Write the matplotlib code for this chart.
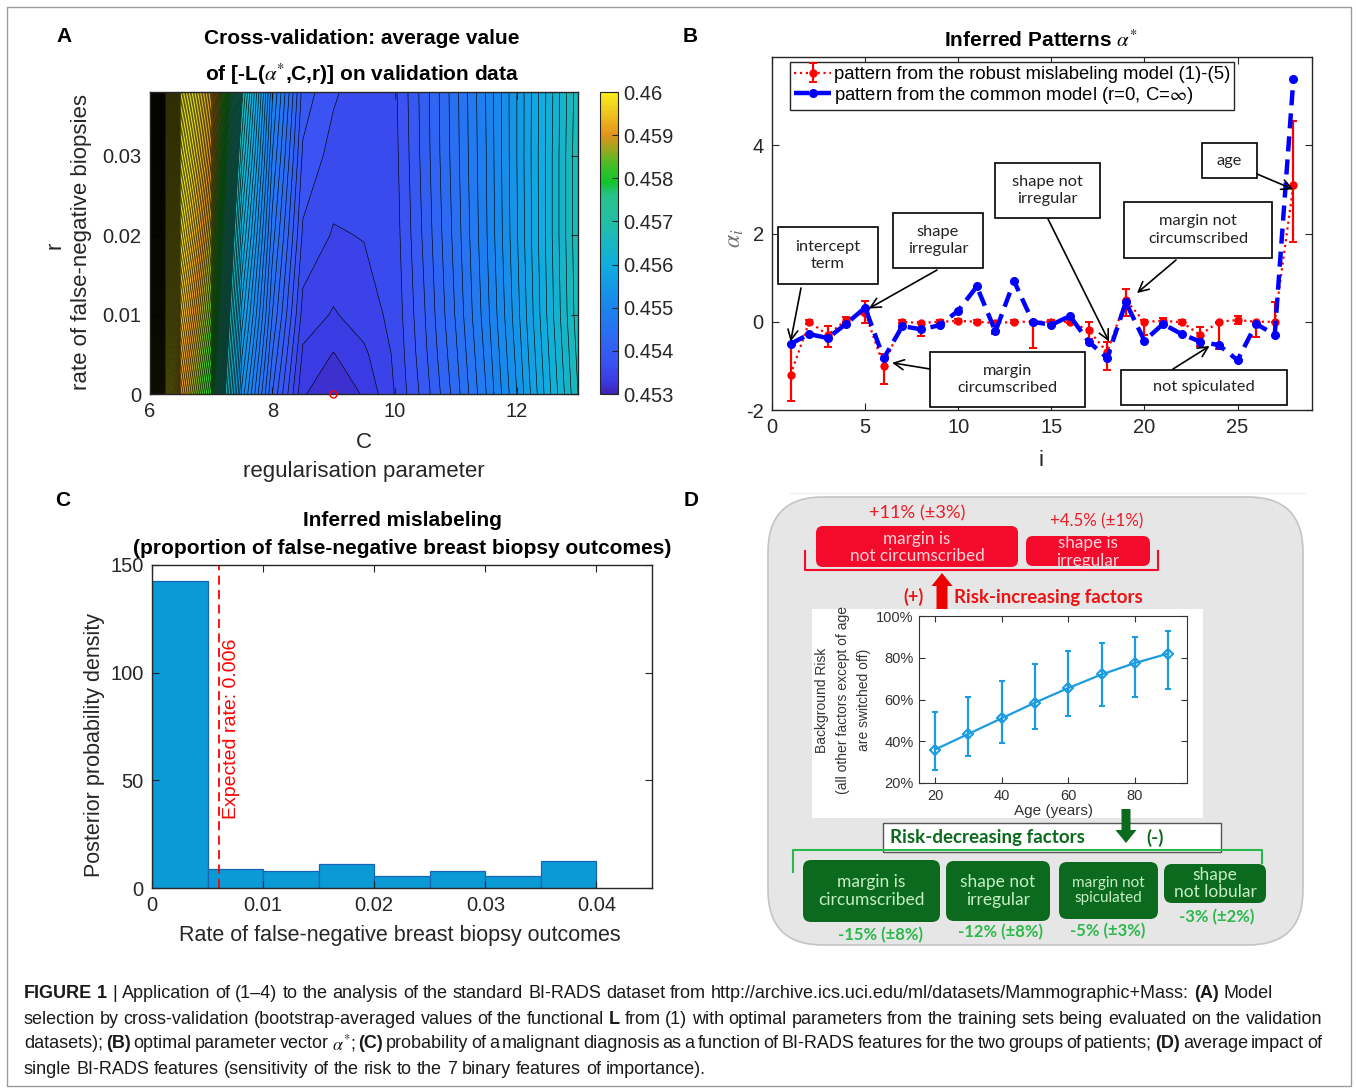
import numpy as np
import matplotlib
matplotlib.use("Agg")
import matplotlib.pyplot as plt
from matplotlib.colors import LinearSegmentedColormap, Normalize
from matplotlib.cm import ScalarMappable
from matplotlib.patches import FancyBboxPatch, Rectangle, FancyArrow

# ------------------------------------------------------------------ data
# Panel A : cross-validation surface  (rows = r, columns = C)
C_grid = [6.0, 6.25, 6.5, 7.0, 7.5, 8.0, 8.5, 9.0, 9.5, 10.0, 10.5, 11.0, 11.5, 12.0, 12.5, 13.0]
r_grid = [0.0, 0.005, 0.01, 0.02, 0.03, 0.04]
cv_r0000 = [0.4640, 0.4606, 0.4591, 0.4580, 0.4553, 0.45408, 0.453254, 0.453142, 0.453254, 0.453523, 0.45387, 0.45429, 0.45478, 0.45534, 0.45597, 0.45660]
cv_r0005 = [0.4645, 0.4609, 0.4593, 0.4582, 0.4555, 0.45422, 0.453352, 0.453233, 0.453352, 0.453541, 0.453912, 0.454332, 0.454822, 0.455382, 0.456012, 0.456642]
cv_r0010 = [0.4650, 0.4612, 0.4595, 0.4584, 0.4557, 0.45436, 0.453464, 0.453366, 0.453450, 0.453562, 0.453940, 0.454374, 0.454864, 0.455424, 0.456054, 0.456684]
cv_r0020 = [0.4658, 0.4617, 0.4599, 0.4587, 0.4561, 0.45457, 0.453632, 0.453506, 0.453527, 0.453590, 0.453982, 0.454416, 0.454906, 0.455466, 0.456082, 0.456712]
cv_r0030 = [0.4666, 0.4622, 0.4603, 0.4590, 0.4565, 0.45478, 0.453772, 0.453604, 0.453562, 0.453611, 0.454010, 0.454444, 0.454920, 0.455480, 0.456082, 0.456712]
cv_r0040 = [0.4675, 0.4627, 0.4607, 0.4593, 0.4569, 0.45499, 0.453912, 0.453702, 0.453590, 0.453632, 0.454024, 0.454458, 0.454934, 0.455480, 0.456068, 0.456684]
cv_best = (9.0, 0.0)
cb_ticks = [0.453, 0.454, 0.455, 0.456, 0.457, 0.458, 0.459, 0.460]
cb_labels = ['0.453', '0.454', '0.455', '0.456', '0.457', '0.458', '0.459', '0.46']

# Panel B : inferred patterns alpha*
feat_idx = list(range(1, 29))
robust = [-1.2, 0.0, -0.3, 0.05, 0.2, -1.0, 0.0, -0.03, 0.0, 0.02, 0.0, -0.03, 0.0, 0.0,
          0.0, 0.0, -0.19, -0.69, 0.49, 0.0, 0.02, -0.01, -0.3, 0.0, 0.04, 0.0, 0.0, 3.1]
robust_lo = [0.59, 0.05, 0.28, 0.05, 0.22, 0.41, 0.03, 0.29, 0.03, 0.05, 0.03, 0.25, 0.03, 0.6,
             0.03, 0.03, 0.2, 0.41, 0.35, 0.3, 0.07, 0.05, 0.24, 0.62, 0.09, 0.35, 0.0, 1.3]
robust_hi = [0.7, 0.05, 0.21, 0.05, 0.27, 0.27, 0.03, 0.03, 0.03, 0.05, 0.03, 0.03, 0.03, 0.02,
             0.03, 0.03, 0.19, 0.22, 0.26, 0.03, 0.07, 0.05, 0.19, 0.0, 0.09, 0.0, 0.45, 1.45]
common = [-0.5, -0.28, -0.37, -0.04, 0.32, -0.83, -0.1, -0.17, -0.08, 0.25, 0.8, -0.22, 0.92, 0.0,
          -0.07, 0.13, -0.45, -0.82, 0.44, -0.43, -0.05, -0.28, -0.45, -0.53, -0.87, -0.05, -0.29, 5.5]
legend_labels = ['pattern from the robust mislabeling model (1)-(5)',
                 r'pattern from the common model (r=0, C=$\infty$)']

# Panel C : posterior histogram
hist_edges = [0.0, 0.005, 0.01, 0.015, 0.02, 0.025, 0.03, 0.035, 0.04]
hist_density = [142.5, 9.0, 8.0, 11.0, 5.6, 8.0, 5.6, 12.5]
expected_rate = 0.006

# Panel D : background risk vs age and feature impacts
ages = [20, 30, 40, 50, 60, 70, 80, 90]
risk = [36, 43.5, 51, 58.5, 65.5, 72, 77.5, 82]
risk_low = [26, 33, 39, 46, 52, 57, 61, 65]
risk_high = [54, 61, 69, 77, 83, 87, 90, 93]
up_names = ['margin is\nnot circumscribed', 'shape is\nirregular']
up_labels = ['+11% (±3%)', '+4.5% (±1%)']
down_names = ['margin is\ncircumscribed', 'shape not\nirregular', 'margin not\nspiculated', 'shape\nnot lobular']
down_labels = ['-15% (±8%)', '-12% (±8%)', '-5% (±3%)', '-3% (±2%)']

# ------------------------------------------------------------------ style
plt.rcParams['font.family'] = ['Liberation Sans', 'DejaVu Sans']
plt.rcParams['mathtext.fontset'] = 'stix'
plt.rcParams['axes.unicode_minus'] = False
TXT = '#262626'
CAL = ['Lato', 'DejaVu Sans']

W, H = 1356, 1089
fig = plt.figure(figsize=(W / 100, H / 100), dpi=100)
fig.patch.set_facecolor('white')


def ax_px(x0, y0, x1, y1):
    return fig.add_axes([x0 / W, 1 - y1 / H, (x1 - x0) / W, (y1 - y0) / H])


bg = fig.add_axes([0, 0, 1, 1])
bg.set_xlim(0, W)
bg.set_ylim(H, 0)
bg.axis('off')
bg.add_patch(Rectangle((7, 7), 1344, 1079, fill=False, ec='#9a9a9a', lw=1.0))


def style_axes(ax, fs=14.5, pad=6):
    ax.tick_params(direction='in', top=True, right=True, labelsize=fs, colors=TXT,
                   length=5, width=0.8, pad=pad)
    for s in ax.spines.values():
        s.set_color(TXT)
        s.set_linewidth(1.0)


# panel letters
for lab, (x, y) in zip('ABCD', [(64, 36), (690, 36), (63, 500), (691, 500)]):
    bg.text(x, y, lab, fontsize=15, fontweight='bold', ha='center', va='center', color='black')

# ------------------------------------------------------------------ Panel A
axA = ax_px(150, 92, 578, 394)
Z = np.array([cv_r0000, cv_r0005, cv_r0010, cv_r0020, cv_r0030, cv_r0040])
Cg, Rg = np.meshgrid(C_grid, r_grid)
cmap_pos = [0.0, 0.04, 0.10, 0.20, 0.29, 0.43, 0.57, 0.66, 0.70, 0.76, 0.81, 0.86, 0.93, 1.0]
cmap_col = ['#3d22b4', '#3b3ae2', '#3a52f2', '#2a6ef2', '#1985ee', '#10aede', '#22bfa6', '#28c288',
            '#10c42e', '#44be26', '#98a81e', '#e2941a', '#eec41e', '#f5ef1c']
cmap = LinearSegmentedColormap.from_list('pal', list(zip(cmap_pos, cmap_col)))
cmap.set_over(cmap_col[-1])
cmap.set_under(cmap_col[0])
norm = Normalize(0.453, 0.460)
levels = np.concatenate([np.arange(0.45310, 0.45675, 0.00014), np.arange(0.45681, 0.46760, 0.00007)])
axA.contourf(Cg, Rg, Z, levels=levels, cmap=cmap, norm=norm)
axA.contour(Cg, Rg, Z, levels=levels[1:], colors='k', linewidths=0.45)
axA.plot([cv_best[0]], [cv_best[1]], 'o', ms=5, mfc='none', mec='red', mew=1.0, clip_on=False, zorder=5)
axA.set_xlim(6, 13)
axA.set_ylim(0, 0.038)
axA.set_xticks([6, 8, 10, 12])
axA.set_yticks([0, 0.01, 0.02, 0.03])
axA.set_yticklabels(['0', '0.01', '0.02', '0.03'])
style_axes(axA)

cax = ax_px(600, 92, 618, 394)
cb = fig.colorbar(ScalarMappable(norm=norm, cmap=cmap), cax=cax, ticks=cb_ticks)
cb.ax.set_yticklabels(cb_labels)
cb.ax.tick_params(direction='in', length=4, labelsize=14.5, colors=TXT, pad=4)
cb.outline.set_edgecolor(TXT)

bg.text(362, 38, 'Cross-validation: average value', fontsize=15, fontweight='bold', ha='center', va='center')
bg.text(362, 74, r'of [-L($\alpha^{*}$,C,r)] on validation data', fontsize=15, fontweight='bold',
        ha='center', va='center')
bg.text(55, 245, 'r', fontsize=16, rotation=90, ha='center', va='center', color=TXT)
bg.text(82, 242, 'rate of false-negative biopsies', fontsize=16, rotation=90, ha='center', va='center', color=TXT)
bg.text(364, 442, 'C', fontsize=16, ha='center', va='center', color=TXT)
bg.text(364, 471, 'regularisation parameter', fontsize=16, ha='center', va='center', color=TXT)

# ------------------------------------------------------------------ Panel B
axB = ax_px(772, 57, 1312, 410)
eb = axB.errorbar(feat_idx, robust, yerr=[robust_lo, robust_hi], fmt=':o', color='red', ms=5,
                  lw=1.6, elinewidth=1.6, capsize=3, capthick=1.4, zorder=2)
ln, = axB.plot(feat_idx, common, color='blue', lw=3.2, marker='.', ms=11, zorder=3)
ln.set_dashes((3.4, 1.8))
axB.set_xlim(0, 29)
axB.set_ylim(-2, 6)
axB.set_xticks([0, 5, 10, 15, 20, 25])
axB.set_yticks([-2, 0, 2, 4])
style_axes(axB)
leg = axB.legend([eb, ln], legend_labels, loc='upper left', bbox_to_anchor=(790 / W, 1 - 62 / H),
                 bbox_transform=fig.transFigure, borderaxespad=0, borderpad=0.22, handlelength=2.0,
                 handletextpad=0.15, labelspacing=0.08, fancybox=False, framealpha=1, fontsize=13.3)
leg.get_frame().set_edgecolor(TXT)
leg.get_frame().set_linewidth(1.0)
bg.text(1041, 40, r'Inferred Patterns $\alpha^{*}$', fontsize=15, fontweight='bold', ha='center', va='center')
bg.text(1041, 460, 'i', fontsize=16, ha='center', va='center', color=TXT)
bg.text(735, 238, r'$\alpha_i$', fontsize=17, rotation=90, ha='center', va='center', color='#707070')

notes = [
    ('intercept\nterm', (778, 227, 878, 284), (801, 288), (1.0, -0.45)),
    ('shape\nirregular', (893, 213, 983, 268), (937, 270), (5.2, 0.3)),
    ('shape not\nirregular', (995, 163, 1100, 218), (1048, 219), (18.1, -0.45)),
    ('margin not\ncircumscribed', (1124, 202, 1272, 258), (1176, 260), (19.6, 0.65)),
    ('age', (1202, 143, 1257, 178), (1257, 174), (28.0, 3.0)),
    ('margin\ncircumscribed', (930, 352, 1085, 407), (930, 369), (6.45, -0.93)),
    ('not spiculated', (1121, 370, 1287, 405), (1173, 369), (23.5, -0.55)),
]
for txt, (x0, y0, x1, y1), start, tip in notes:
    axB.add_patch(Rectangle((x0, y0), x1 - x0, y1 - y0, transform=bg.transData, fc='white',
                            ec='black', lw=1.2, clip_on=False, zorder=6))
    axB.text((x0 + x1) / 2, (y0 + y1) / 2, txt, transform=bg.transData, ha='center', va='center',
             fontsize=11.8, family=CAL, color='#222222', zorder=7, clip_on=False, linespacing=1.3)
    axB.annotate('', xy=tip, xycoords='data', xytext=start, textcoords=bg.transData,
                 arrowprops=dict(arrowstyle='->', color='black', lw=1.2, shrinkA=0, shrinkB=0,
                                 mutation_scale=18), zorder=7, annotation_clip=False)

# ------------------------------------------------------------------ Panel C
axC = ax_px(152, 565, 652, 888)
axC.bar(hist_edges[:-1], hist_density, width=np.diff(hist_edges), align='edge',
        color='#0a9bd7', edgecolor='#1a63b0', lw=0.9)
axC.axvline(expected_rate, color='red', ls='--', lw=1.3, dashes=(5, 3))
axC.text(expected_rate + 0.00115, 74, 'Expected rate: ' + str(expected_rate), rotation=90, color='red',
         fontsize=14, ha='center', va='center')
axC.set_xlim(0, 0.045)
axC.set_ylim(0, 150)
axC.set_xticks([0, 0.01, 0.02, 0.03, 0.04])
axC.set_xticklabels(['0', '0.01', '0.02', '0.03', '0.04'])
axC.set_yticks([0, 50, 100, 150])
style_axes(axC)
bg.text(402, 520, 'Inferred mislabeling', fontsize=15, fontweight='bold', ha='center', va='center')
bg.text(402, 549, '(proportion of false-negative breast biopsy outcomes)', fontsize=15,
        fontweight='bold', ha='center', va='center')
bg.text(95, 745, 'Posterior probability density', fontsize=15.5, rotation=90, ha='center', va='center', color=TXT)
bg.text(400, 935, 'Rate of false-negative breast biopsy outcomes', fontsize=15.5, ha='center', va='center', color=TXT)

# ------------------------------------------------------------------ Panel D
bg.plot([790, 1305], [493, 493], color='#eeeeee', lw=1)
bg.add_patch(FancyBboxPatch((768, 497), 535, 448, boxstyle='round,pad=0,rounding_size=55',
                            fc='#e6e6e6', ec='#c4c4c4', lw=1.2))
RED = '#f40a2a'
GREEN_D = '#0b6a1d'
GREEN_L = '#2cb84a'
# risk-increasing
bg.plot([805, 805, 1158, 1158], [551, 570, 570, 551], color=RED, lw=1.5)
for name, lab, (x0, y0, x1, y1), lab_xy in zip(up_names, up_labels,
                                               [(816, 526, 1018, 567), (1026, 536, 1150, 566)],
                                               [(917, 513), (1097, 521)]):
    box = FancyBboxPatch((x0, y0), x1 - x0, y1 - y0, boxstyle='round,pad=0,rounding_size=7',
                         fc=RED, ec='none')
    bg.add_patch(box)
    t = bg.text((x0 + x1) / 2, (y0 + y1) / 2 + 1, name, fontsize=12.3, family=CAL, color='#ffd3da',
                ha='center', va='center', linespacing=1.15)
    t.set_clip_path(box)
    bg.text(lab_xy[0], lab_xy[1], lab, fontsize=13.2 if lab_xy[0] < 1000 else 12.2, family=CAL,
            color='#ee1c25', ha='center', va='center')
bg.add_patch(FancyArrow(942, 609, 0, -36, width=11, head_width=21, head_length=13,
                        length_includes_head=True, fc='#ee0000', ec='none'))
bg.text(914, 597, '(+)', fontsize=13, family=CAL, fontweight='bold', color='#ee1111', ha='center', va='center')
bg.text(954, 597, 'Risk-increasing factors', fontsize=13.4, family=CAL, fontweight='bold',
        color='#ee1111', ha='left', va='center')

# inset axes
bg.add_patch(Rectangle((812, 609), 391, 209, fc='white', ec='none'))
axD = ax_px(919, 616, 1187, 783)
yerr_d = [np.array(risk) - np.array(risk_low), np.array(risk_high) - np.array(risk)]
axD.errorbar(ages, risk, yerr=yerr_d, fmt='-D', color='#1b9be0', ms=5, mfc='none', mew=1.5,
             lw=1.6, elinewidth=1.6, capsize=2)
axD.set_xlim(15.2, 95.6)
axD.set_ylim(20, 100)
axD.set_xticks([20, 40, 60, 80])
axD.set_yticks([20, 40, 60, 80, 100])
axD.set_yticklabels([f'{v}%' for v in [20, 40, 60, 80, 100]])
axD.tick_params(direction='in', top=True, right=True, labelsize=10.5, colors='#333333', length=4, pad=4)
for s in axD.spines.values():
    s.set_color('#333333')
bg.text(1054, 811, 'Age (years)', fontsize=11, ha='center', va='center', color='#333333')
for xx, tt in zip([822, 843, 864], ['Background Risk', '(all other factors except of age', 'are switched off)']):
    bg.text(xx, 700, tt, fontsize=10, rotation=90, ha='center', va='center', color='#333333')

# risk-decreasing
bg.plot([793, 793, 1262, 1262], [872, 850, 850, 863], color=GREEN_L, lw=1.5)
bg.add_patch(Rectangle((883, 823), 338, 29, fc='white', ec='#555555', lw=1.0))
bg.add_patch(FancyArrow(1126, 809, 0, 34, width=9, head_width=21, head_length=13,
                        length_includes_head=True, fc=GREEN_D, ec='none'))
bg.text(890, 838, 'Risk-decreasing factors', fontsize=13.5, family=CAL, fontweight='bold',
        color=GREEN_D, ha='left', va='center')
bg.text(1146, 838, '(-)', fontsize=13.5, family=CAL, fontweight='bold', color=GREEN_D, ha='left', va='center')
down_boxes = [(803, 860, 940, 922), (946, 861, 1050, 921), (1059, 862, 1158, 919), (1164, 864, 1266, 903)]
down_lab_xy = [(881, 935), (1000, 932), (1108, 931), (1217, 917)]
down_fs = [12.5, 12.5, 11, 12.5]
for name, lab, (x0, y0, x1, y1), lxy, fs in zip(down_names, down_labels, down_boxes, down_lab_xy, down_fs):
    bg.add_patch(FancyBboxPatch((x0, y0), x1 - x0, y1 - y0, boxstyle='round,pad=0,rounding_size=8',
                                fc=GREEN_D, ec='none'))
    bg.text((x0 + x1) / 2, (y0 + y1) / 2, name, fontsize=fs, family=CAL, color='#c6efc6',
            ha='center', va='center', linespacing=1.12)
    bg.text(lxy[0], lxy[1], lab, fontsize=12, family=CAL, fontweight='bold', color=GREEN_L,
            ha='center', va='center')

# ------------------------------------------------------------------ caption
cap_lines = [
    [("FIGURE 1", 'b'), (" | Application of (1–4) to the analysis of the standard BI-RADS dataset from "
                        "http://archive.ics.uci.edu/ml/datasets/Mammographic+Mass: ", 'n'), ("(A)", 'b'), (" Model", 'n')],
    [("selection by cross-validation (bootstrap-averaged values of the functional ", 'n'), ("L", 'b'),
     (" from (1) with optimal parameters from the training sets being evaluated on the validation", 'n')],
    [("datasets); ", 'n'), ("(B)", 'b'), (" optimal parameter vector ", 'n'), (r"$\alpha^{*}$", 'n'), ("; ", 'n'),
     ("(C)", 'b'), (" probability of a malignant diagnosis as a function of BI-RADS features for the two groups of patients; ", 'n'),
     ("(D)", 'b'), (" average impact of", 'n')],
    [("single BI-RADS features (sensitivity of the risk to the 7 binary features of importance).", 'n')],
]
cap_y = [994, 1019, 1044, 1069]
cap_justify = [None, 1322, 1322, None]
renderer = fig.canvas.get_renderer()


def words_of(pieces):
    words, cur = [], []
    for txt, st in pieces:
        parts = txt.split(' ')
        for j, p in enumerate(parts):
            if j > 0 and cur:
                words.append(cur)
                cur = []
            if p:
                cur.append((p, st))
    if cur:
        words.append(cur)
    return words


def place_line(pieces, y, fs, x0=24, x1=None):
    words = words_of(pieces)
    objs = []
    total = 0
    for w in words:
        ts = []
        for p, st in w:
            t = bg.text(0, y, p, fontsize=fs, ha='left', va='center', color='#1a1a1a',
                        fontweight='bold' if st == 'b' else 'normal')
            ts.append((t, t.get_window_extent(renderer).width))
        objs.append(ts)
        total += sum(wd for _, wd in ts)
    a = bg.text(0, 0, 'a a', fontsize=fs)
    b = bg.text(0, 0, 'aa', fontsize=fs)
    sp = a.get_window_extent(renderer).width - b.get_window_extent(renderer).width
    a.remove()
    b.remove()
    gap = sp if x1 is None else (x1 - x0 - total) / (len(words) - 1)
    x = x0
    for ts in objs:
        for t, wd in ts:
            t.set_x(x)
            x += wd
        x += gap
    return x - gap - x0, objs


w1, objs = place_line(cap_lines[0], cap_y[0], 12)
for ts in objs:
    for t, _ in ts:
        t.remove()
cap_fs = 12 * 1254 / w1
for pieces, y, j in zip(cap_lines, cap_y, cap_justify):
    place_line(pieces, y, cap_fs, x1=j)

fig.savefig('out.png', dpi=100, facecolor='white')
